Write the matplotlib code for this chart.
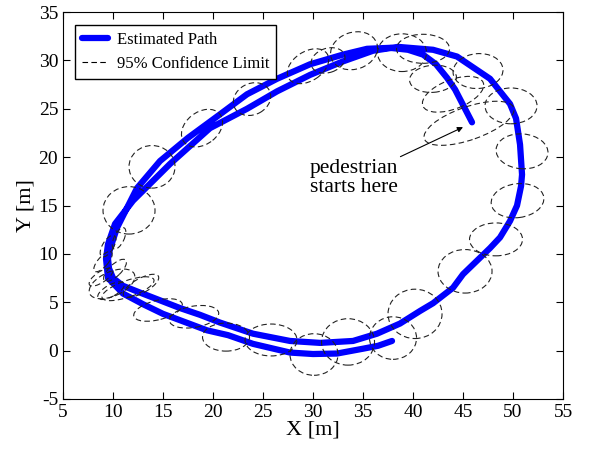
import numpy as np
import matplotlib.pyplot as plt
from matplotlib.patches import Ellipse

plt.rcParams['font.family'] = ['Liberation Serif', 'DejaVu Serif']
plt.rcParams['axes.unicode_minus'] = False

# estimated path (two laps)
path_x = [45.9, 45.2, 44.2, 43.4, 42.3, 41.0, 39.5, 37.7, 35.4, 33.0, 29.7, 26.4, 23.4,
          20.4, 17.5, 14.7, 12.4, 10.4, 9.7, 9.5, 9.6, 10.0, 11.0, 12.7, 14.7, 16.7,
          18.7, 20.7, 24.0, 27.7, 30.7, 34.0, 36.4, 38.7, 40.7, 42.0, 44.0, 45.0, 46.4,
          47.7, 48.7, 49.7, 50.4, 50.8, 50.9, 50.7, 50.3, 49.7, 47.7, 44.4, 42.0, 38.5,
          36.0, 33.0, 29.7, 26.4, 23.4, 19.7, 15.7, 12.0, 10.2, 9.5, 9.3, 9.5, 11.0,
          13.0, 15.0, 19.4, 21.5, 24.0, 27.7, 30.0, 32.4, 35.0, 36.5, 37.9]
path_y = [23.6, 25.0, 27.0, 28.2, 29.6, 30.6, 31.1, 31.3, 31.2, 30.6, 29.6, 28.1, 26.5,
          24.2, 22.0, 19.6, 16.8, 12.7, 10.5, 9.5, 8.5, 7.5, 6.7, 6.0, 5.2, 4.4,
          3.7, 2.9, 1.75, 1.0, 0.8, 1.0, 1.75, 2.8, 4.1, 4.9, 6.5, 7.9, 9.3,
          10.6, 11.7, 13.4, 15.0, 17.0, 18.2, 21.3, 24.0, 25.5, 28.1, 30.4, 31.1, 31.4,
          31.0, 29.9, 28.5, 26.8, 25.0, 23.0, 19.3, 15.5, 13.1, 11.0, 9.5, 7.5, 5.9,
          4.8, 3.8, 2.1, 1.6, 0.7, -0.2, -0.35, -0.3, 0.2, 0.5, 1.0]

# 95% confidence ellipses: centre, width, height, angle
ell_x = [45.6, 44.0, 42.0, 46.5, 49.8, 50.9, 50.45, 48.3, 45.2, 40.2, 38.0, 33.5, 30.1,
         25.8, 21.3, 18.1, 14.5, 12.8, 11.5, 9.9, 9.8, 8.8, 10.2, 9.0, 9.5, 10.6,
         11.6, 13.9, 18.9, 23.9, 29.5, 31.5, 34.1, 38.9, 41.0]
ell_y = [23.5, 26.5, 28.1, 28.9, 25.3, 20.6, 15.5, 11.5, 8.2, 3.8, 1.3, 0.9, -0.4,
         1.1, 1.4, 3.5, 4.2, 6.7, 6.4, 6.9, 6.2, 7.6, 8.3, 9.2, 10.8, 11.6,
         14.5, 19.0, 23.0, 26.0, 29.4, 30.0, 31.0, 30.8, 31.2]
ell_w = [9.5, 6.5, 4.7, 5.0, 5.2, 5.2, 5.3, 5.3, 5.4, 5.4, 4.7, 5.3, 4.8,
         5.2, 4.7, 5.0, 5.0, 4.0, 5.5, 4.9, 3.0, 2.8, 3.0, 2.6, 2.5, 2.4,
         5.2, 4.6, 4.6, 3.9, 4.6, 3.5, 4.8, 4.9, 5.3]
ell_h = [3.4, 3.0, 2.8, 3.6, 3.7, 3.6, 3.5, 3.4, 4.5, 5.1, 4.4, 4.8, 4.3,
         3.3, 2.9, 2.2, 2.0, 1.5, 1.7, 2.5, 1.2, 1.1, 1.2, 1.0, 1.1, 1.0,
         4.9, 4.4, 3.3, 3.2, 3.0, 2.5, 3.8, 3.9, 3.0]
ell_ang = [20, 22, 5, 5, 0, -5, 8, 0, 0, 0, 0, 0, 0,
           0, 0, 10, 15, 30, 20, 25, 30, 35, 45, 50, 60, 65,
           0, 0, 40, 30, 35, 20, 20, 0, 0]

fig = plt.figure(figsize=(5.9, 4.51), dpi=100)
ax = fig.add_axes([0.1068, 0.1153, 0.8475, 0.858])

ax.plot(path_x, path_y, color='#0000ff', linewidth=4.5, solid_joinstyle='round',
        solid_capstyle='round', label='Estimated Path', zorder=2)
for i in range(len(ell_x)):
    e = Ellipse((ell_x[i], ell_y[i]), ell_w[i], ell_h[i], angle=ell_ang[i],
                fill=False, edgecolor='#222222', linestyle=(0, (5, 3)), linewidth=0.8, zorder=3)
    ax.add_patch(e)
ax.plot([], [], color='black', linestyle=(0, (5, 3)), linewidth=0.8, label='95% Confidence Limit')

ax.annotate('pedestrian\nstarts here', xy=(45.0, 23.1), xytext=(29.7, 17.8),
            fontsize=15.5, ha='left', va='center', linespacing=1.0,
            arrowprops=dict(arrowstyle='-|>', color='black', lw=0.8, mutation_scale=8,
                            shrinkA=0, shrinkB=0))

ax.set_xlim(5, 55)
ax.set_ylim(-5, 35)
ax.set_xticks(np.arange(5, 56, 5))
ax.set_yticks(np.arange(-5, 36, 5))
ax.tick_params(direction='in', top=True, right=True, labelsize=14, length=5)
ax.set_xlabel('X [m]', fontsize=16, labelpad=0)
ax.set_ylabel('Y [m]', fontsize=16, labelpad=2)

leg = ax.legend(loc='upper left', bbox_to_anchor=(0.024, 0.966), borderaxespad=0,
                fancybox=False, edgecolor='black', fontsize=12, handlelength=1.6,
                handletextpad=0.5, labelspacing=0.5, framealpha=1)
leg.get_frame().set_linewidth(1.0)

fig.savefig('out.png', dpi=100)
